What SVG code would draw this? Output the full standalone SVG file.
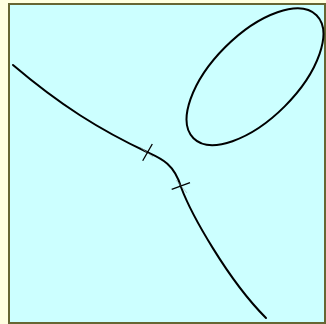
<svg xmlns="http://www.w3.org/2000/svg" width="326" height="324" viewBox="0 0 326 324">
<style>
.curve{fill:none;stroke:#000;stroke-width:2;stroke-linecap:round}
.tick{stroke:#000;stroke-width:1.3}
.ghost{stroke:#9aa;stroke-width:1;opacity:0.6}
</style>
<rect x="0" y="0" width="326" height="324" fill="#ffffe0"/>
<rect id="frame" x="9" y="4" width="316" height="319" fill="#ccffff" stroke="#666633" stroke-width="2"/>
<g id="loop">
<ellipse cx="255" cy="76.7" rx="87" ry="42" transform="rotate(-45 255 76.7)" class="curve"/>
</g>
<g id="connectors">
<path class="curve" d="M13,65 C60,105 100,130 147,152 C160,158 174,163 181,187 C191,214 228,280 266,318"/>
<line class="ghost" x1="140" y1="147" x2="153" y2="157"/>
<line class="tick" x1="142.7" y1="160.7" x2="152.3" y2="144"/>
<line class="ghost" x1="176" y1="180" x2="187" y2="193"/>
<line class="tick" x1="171.7" y1="189.3" x2="190" y2="182.7"/>
</g>
</svg>
